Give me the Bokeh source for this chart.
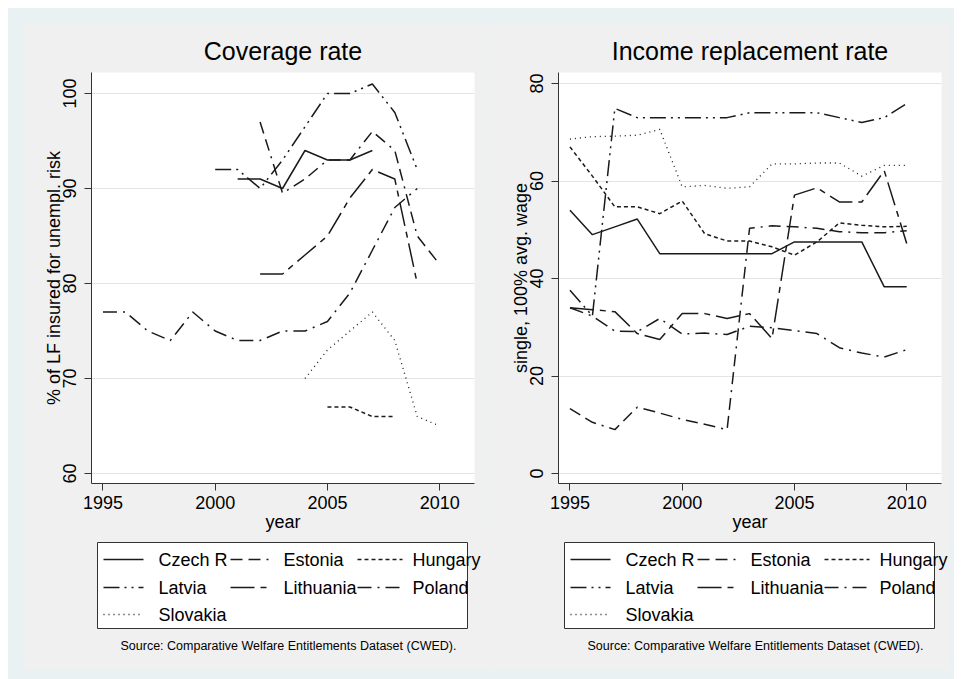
from bokeh.plotting import figure
from bokeh.layouts import row, column
from bokeh.models import Range1d, FixedTicker
from bokeh.core.properties import value
from bokeh.embed import file_html
from bokeh.resources import INLINE

FONT = "Liberation Sans"

# ---- Coverage rate (% of labour force insured for unemployment risk) ----
cov_czech_years = [2001, 2002, 2003, 2004, 2005, 2006, 2007]
cov_czech = [91, 91, 90, 94, 93, 93, 94]
cov_estonia_years = [2002, 2003, 2004, 2005, 2006, 2007, 2008, 2009, 2010]
cov_estonia = [97, 89.5, 91, 93, 93, 96, 94, 85, 82]
cov_hungary_years = [2005, 2006, 2007, 2008]
cov_hungary = [67, 67, 66, 66]
cov_latvia_years = [2000, 2001, 2002, 2003, 2004, 2005, 2006, 2007, 2008, 2009]
cov_latvia = [92, 92, 90, 93, 96.5, 100, 100, 101, 98, 92]
cov_lithuania_years = [2002, 2003, 2004, 2005, 2006, 2007, 2008, 2009]
cov_lithuania = [81, 81, 83, 85, 89, 92, 91, 80]
cov_poland_years = list(range(1995, 2010))
cov_poland = [77, 77, 75, 74, 77, 75, 74, 74, 75, 75, 76, 79, 83.5, 88, 90]
cov_slovakia_years = [2004, 2005, 2006, 2007, 2008, 2009, 2010]
cov_slovakia = [70, 73, 75, 77, 74, 66, 65]

# ---- Income replacement rate (single, 100% of average wage) ----
irr_years = list(range(1995, 2011))
irr_czech = [54, 49, 50.6, 52.2, 45.1, 45.1, 45.1, 45.1, 45.1, 45.1, 47.5, 47.5, 47.5, 47.5, 38.3, 38.3]
irr_estonia = [13.3, 10.5, 9.0, 13.6, 12.4, 11.1, 10.1, 9.0, 50.3, 50.8, 50.6, 50.3, 49.6, 49.4, 49.4, 49.8]
irr_hungary = [67, 61, 54.7, 54.7, 53.3, 55.9, 49.2, 47.7, 47.7, 46.5, 44.8, 47.5, 51.4, 50.9, 50.6, 50.7]
irr_latvia = [37.6, 32.3, 74.9, 73, 73, 73, 73, 73, 74, 74, 74, 74, 73, 72, 73, 75.9]
irr_lithuania = [34, 33.6, 33.2, 28.7, 27.5, 32.8, 32.8, 31.8, 32.8, 27.7, 57.1, 58.6, 55.7, 55.7, 62.1, 47.2]
irr_poland = [34, 32.3, 29.2, 29.1, 31.8, 28.6, 28.8, 28.5, 30.2, 29.9, 29.3, 28.7, 25.8, 24.7, 23.9, 25.4]
irr_slovakia = [68.6, 69.1, 69.2, 69.4, 70.6, 58.8, 59.1, 58.5, 58.8, 63.5, 63.5, 63.7, 63.7, 61.0, 63.2, 63.2]

countries = ["Czech R", "Estonia", "Hungary", "Latvia", "Lithuania", "Poland", "Slovakia"]
x_ticks = [1995, 2000, 2005, 2010]
cov_ticks = [60, 70, 80, 90, 100]
irr_ticks = [0, 20, 40, 60, 80]
source_note = "Source: Comparative Welfare Entitlements Dataset (CWED)."

# line pattern per country (monochrome scheme)
DASH = {
    "Czech R": "solid",
    "Estonia": "12 6 12 6 2 6",
    "Hungary": "4 3",
    "Latvia": "16 5 2 5 2 5",
    "Lithuania": "24 6 6 6",
    "Poland": "14 6 2 6",
    "Slovakia": "1 4",
}

PANEL_BG = "#f0f0f0"
OUTER_BG = "#e9f1f3"
INK = "#1a1a1a"

FRAME_W = 383
FRAME_H = 411
BORDER_TOP = 49
BORDER_BOTTOM = 56
PANEL_H = BORDER_TOP + FRAME_H + BORDER_BOTTOM
LEGEND_H = 647 - PANEL_H
PX_PER_YEAR = 22.45
X0 = 1994.49


def panel(width, title, ylabel, ticks, y0, y1, series):
    p = figure(width=width, height=PANEL_H,
               x_range=Range1d(X0, X0 + FRAME_W / PX_PER_YEAR),
               y_range=Range1d(y0, y1),
               output_backend="svg", toolbar_location=None,
               min_border_left=68, min_border_right=width - 68 - FRAME_W,
               min_border_top=BORDER_TOP, min_border_bottom=BORDER_BOTTOM)
    p.background_fill_color = "white"
    p.border_fill_color = PANEL_BG
    p.outline_line_color = None

    p.title.text = title
    p.title.text_font = FONT
    p.title.text_font_size = "25px"
    p.title.text_font_style = "normal"
    p.title.text_color = "black"
    p.title.align = "center"
    p.title.standoff = 15

    p.xaxis.ticker = FixedTicker(ticks=x_ticks)
    p.yaxis.ticker = FixedTicker(ticks=ticks)
    p.xaxis.axis_label = "year"
    p.yaxis.axis_label = ylabel
    p.yaxis.major_label_orientation = "vertical"
    for ax in (p.xaxis[0], p.yaxis[0]):
        ax.axis_line_color = "#333333"
        ax.axis_line_width = 1
        ax.major_tick_line_color = "#333333"
        ax.major_tick_out = 7
        ax.major_tick_in = 0
        ax.minor_tick_out = 0
        ax.minor_tick_in = 0
        ax.major_label_text_font = FONT
        ax.major_label_text_font_size = "18px"
        ax.major_label_text_color = "black"
        ax.axis_label_text_font = FONT
        ax.axis_label_text_font_size = "18px"
        ax.axis_label_text_font_style = "normal"
        ax.axis_label_text_color = "black"
    p.yaxis.major_label_standoff = 8
    p.yaxis.axis_label_standoff = -3
    p.xaxis.major_label_standoff = 5
    p.xaxis.axis_label_standoff = 0

    p.xgrid.visible = False
    p.ygrid.ticker = FixedTicker(ticks=ticks)
    p.ygrid.grid_line_color = "#e4e4e4"
    p.ygrid.grid_line_width = 1

    for name, xs, ys in series:
        w = 1.3 if name == "Slovakia" else 1.5
        p.line(xs, ys, line_color=INK, line_width=w, line_dash=DASH[name])
    return p


def legend_box(width, box_left):
    h = LEGEND_H
    p = figure(width=width, height=h, x_range=Range1d(0, width), y_range=Range1d(h, 0),
               output_backend="svg", toolbar_location=None,
               x_axis_type=None, y_axis_type=None,
               min_border=0, min_border_left=0, min_border_right=0,
               min_border_top=0, min_border_bottom=0)
    p.background_fill_color = PANEL_BG
    p.border_fill_color = PANEL_BG
    p.outline_line_color = None

    p.quad(left=[box_left], right=[box_left + 370], top=[3], bottom=[89],
           fill_color="white", line_color="#333333", line_width=1)

    col_line = [(6, 46), (133, 175), (260, 305)]
    col_text = [61, 186, 315]
    row_y = [20, 48, 75]
    for i, name in enumerate(countries):
        r, c = divmod(i, 3)
        x_a, x_b = col_line[c]
        p.line([box_left + x_a, box_left + x_b], [row_y[r], row_y[r]],
               line_color=INK, line_width=1.4, line_dash=DASH[name])
        p.text(x=[box_left + col_text[c]], y=[row_y[r]], text=[name],
               text_font=value(FONT), text_font_size="18px",
               text_baseline="middle", text_align="left", text_color="black")
    p.text(x=[box_left + 23], y=[106], text=[source_note],
           text_font=value(FONT), text_font_size="12.5px",
           text_baseline="middle", text_align="left", text_color="black")
    return p


left_series = [
    ("Czech R", cov_czech_years, cov_czech),
    ("Estonia", cov_estonia_years, cov_estonia),
    ("Hungary", cov_hungary_years, cov_hungary),
    ("Latvia", cov_latvia_years, cov_latvia),
    ("Lithuania", cov_lithuania_years, cov_lithuania),
    ("Poland", cov_poland_years, cov_poland),
    ("Slovakia", cov_slovakia_years, cov_slovakia),
]
right_series = [
    ("Czech R", irr_years, irr_czech),
    ("Estonia", irr_years, irr_estonia),
    ("Hungary", irr_years, irr_hungary),
    ("Latvia", irr_years, irr_latvia),
    ("Lithuania", irr_years, irr_lithuania),
    ("Poland", irr_years, irr_poland),
    ("Slovakia", irr_years, irr_slovakia),
]

WL, WR = 467, 460
pL = panel(WL, "Coverage rate", "% of LF insured for unempl. risk", cov_ticks,
           58.95, 102.21, left_series)
pR = panel(WR, "Income replacement rate", "single, 100% avg. wage", irr_ticks,
           -2.05, 82.26, right_series)
lL = legend_box(WL, 74)
lR = legend_box(WR, 74)

inner = column(row(pL, pR, spacing=0), row(lL, lR, spacing=0), spacing=0)
framed = column(inner, styles={"background-color": OUTER_BG, "padding": "15px 4px 9px 15px"})
page = column(framed, styles={"background-color": "white", "padding": "8px 0px 0px 8px"})

open("out.html", "w").write(file_html(page, INLINE))
